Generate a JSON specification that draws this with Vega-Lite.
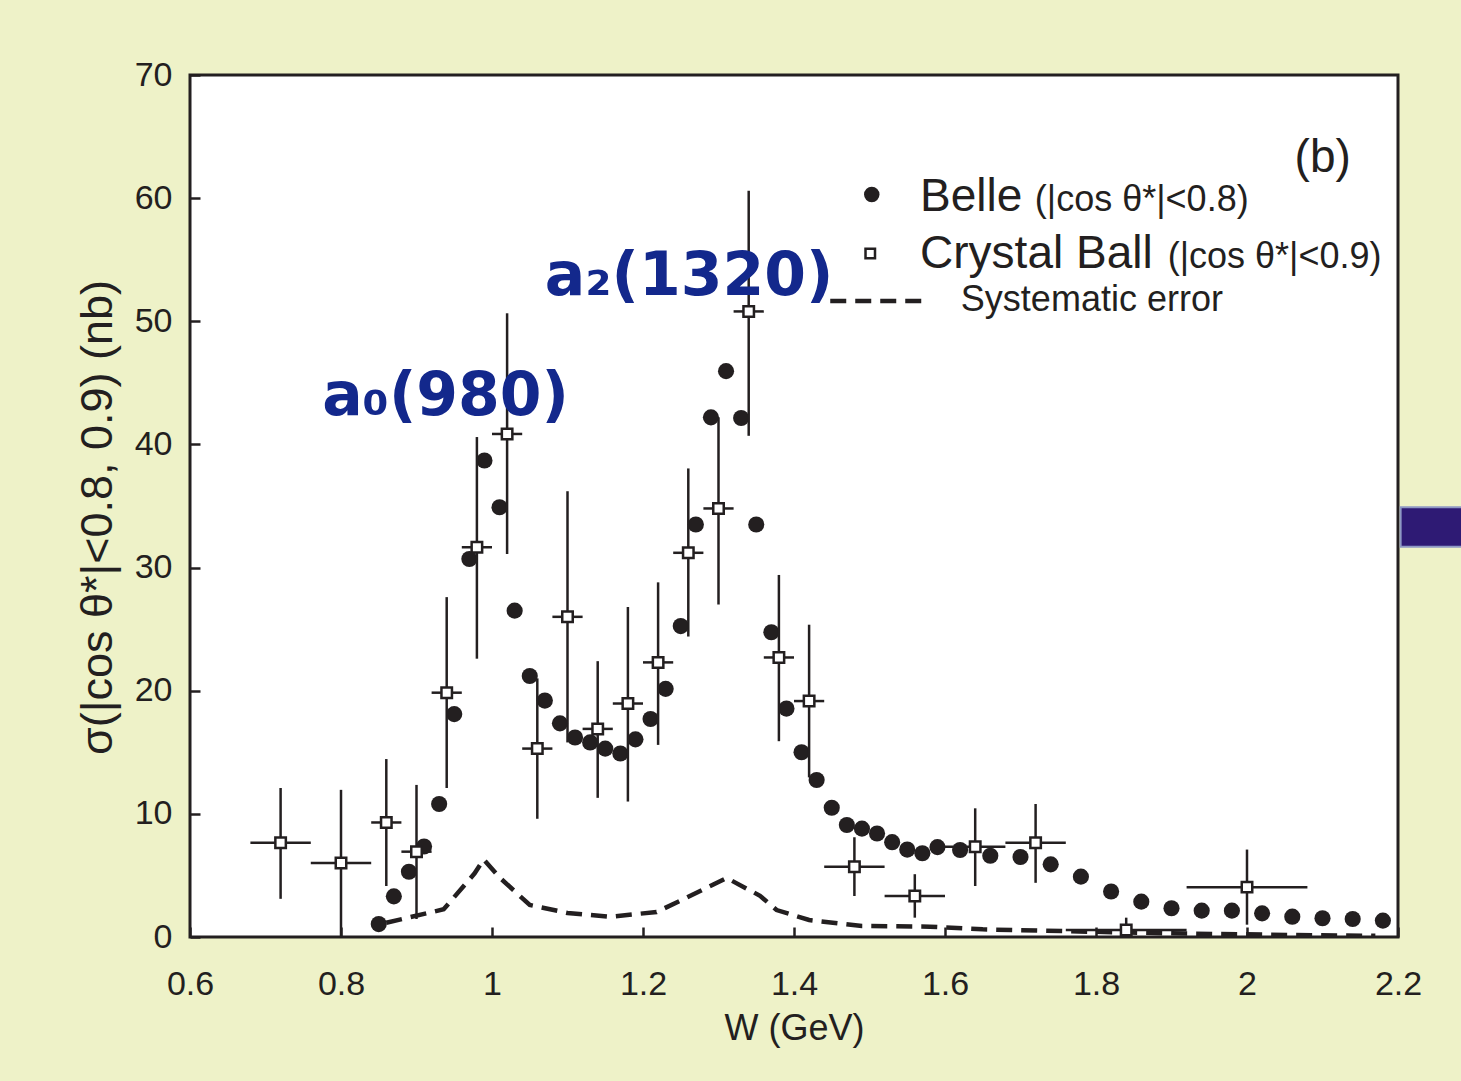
{
  "$schema": "https://vega.github.io/schema/vega-lite/v6.json",
  "width": 1208,
  "height": 862,
  "autosize": {"type": "none"},
  "padding": {"left": 190, "top": 75, "right": 63, "bottom": 144},
  "background": "#eef2c8",
  "config": {
    "view": {"fill": "white", "stroke": "#231f20", "strokeWidth": 3},
    "font": "Liberation Sans",
    "axis": {
      "domain": false, "grid": false,
      "tickColor": "#231f20", "tickWidth": 2.5, "tickSize": -10,
      "labelFont": "Liberation Sans", "labelFontSize": 34, "labelColor": "#231f20", "labelFlush": false,
      "titleFont": "Liberation Sans", "titleFontSize": 36, "titleFontWeight": "normal", "titleColor": "#231f20"
    }
  },
  "datasets": {
    "belle": [
      {"W": 0.85, "sigma": 1.05}, {"W": 0.87, "sigma": 3.3}, {"W": 0.89, "sigma": 5.3}, {"W": 0.91, "sigma": 7.35},
      {"W": 0.93, "sigma": 10.8}, {"W": 0.95, "sigma": 18.1}, {"W": 0.97, "sigma": 30.7}, {"W": 0.99, "sigma": 38.7},
      {"W": 1.01, "sigma": 34.9}, {"W": 1.03, "sigma": 26.5}, {"W": 1.05, "sigma": 21.2}, {"W": 1.07, "sigma": 19.2},
      {"W": 1.09, "sigma": 17.35}, {"W": 1.11, "sigma": 16.2}, {"W": 1.13, "sigma": 15.8}, {"W": 1.15, "sigma": 15.3},
      {"W": 1.17, "sigma": 14.9}, {"W": 1.19, "sigma": 16.05}, {"W": 1.21, "sigma": 17.7}, {"W": 1.23, "sigma": 20.15},
      {"W": 1.25, "sigma": 25.25}, {"W": 1.27, "sigma": 33.5}, {"W": 1.29, "sigma": 42.2}, {"W": 1.31, "sigma": 45.95},
      {"W": 1.33, "sigma": 42.15}, {"W": 1.35, "sigma": 33.5}, {"W": 1.37, "sigma": 24.75}, {"W": 1.39, "sigma": 18.55},
      {"W": 1.41, "sigma": 15.0}, {"W": 1.43, "sigma": 12.75}, {"W": 1.45, "sigma": 10.5}, {"W": 1.47, "sigma": 9.1},
      {"W": 1.49, "sigma": 8.8}, {"W": 1.51, "sigma": 8.4}, {"W": 1.53, "sigma": 7.7}, {"W": 1.55, "sigma": 7.1},
      {"W": 1.57, "sigma": 6.8}, {"W": 1.59, "sigma": 7.3}, {"W": 1.62, "sigma": 7.07}, {"W": 1.66, "sigma": 6.6},
      {"W": 1.70, "sigma": 6.5}, {"W": 1.74, "sigma": 5.9}, {"W": 1.78, "sigma": 4.9}, {"W": 1.82, "sigma": 3.7},
      {"W": 1.86, "sigma": 2.87}, {"W": 1.90, "sigma": 2.33}, {"W": 1.94, "sigma": 2.14}, {"W": 1.98, "sigma": 2.14},
      {"W": 2.02, "sigma": 1.92}, {"W": 2.06, "sigma": 1.65}, {"W": 2.10, "sigma": 1.52}, {"W": 2.14, "sigma": 1.46},
      {"W": 2.18, "sigma": 1.33}
    ],
    "cb": [
      {"W": 0.72, "sigma": 7.66, "lo": 3.1, "hi": 12.1, "wlo": 0.68, "whi": 0.76},
      {"W": 0.80, "sigma": 6.0, "lo": 0.0, "hi": 11.95, "wlo": 0.76, "whi": 0.84},
      {"W": 0.86, "sigma": 9.3, "lo": 4.14, "hi": 14.45, "wlo": 0.84, "whi": 0.88},
      {"W": 0.90, "sigma": 6.93, "lo": 1.46, "hi": 12.35, "wlo": 0.88, "whi": 0.92},
      {"W": 0.94, "sigma": 19.84, "lo": 12.1, "hi": 27.6, "wlo": 0.92, "whi": 0.96},
      {"W": 0.98, "sigma": 31.65, "lo": 22.6, "hi": 40.6, "wlo": 0.96, "whi": 1.00},
      {"W": 1.02, "sigma": 40.85, "lo": 31.1, "hi": 50.65, "wlo": 1.00, "whi": 1.04},
      {"W": 1.06, "sigma": 15.3, "lo": 9.6, "hi": 21.0, "wlo": 1.04, "whi": 1.08},
      {"W": 1.10, "sigma": 26.0, "lo": 15.8, "hi": 36.2, "wlo": 1.08, "whi": 1.12},
      {"W": 1.14, "sigma": 16.9, "lo": 11.3, "hi": 22.4, "wlo": 1.12, "whi": 1.16},
      {"W": 1.18, "sigma": 18.96, "lo": 11.0, "hi": 26.8, "wlo": 1.16, "whi": 1.20},
      {"W": 1.22, "sigma": 22.3, "lo": 15.6, "hi": 28.8, "wlo": 1.20, "whi": 1.24},
      {"W": 1.26, "sigma": 31.2, "lo": 24.4, "hi": 38.05, "wlo": 1.24, "whi": 1.28},
      {"W": 1.30, "sigma": 34.8, "lo": 27.0, "hi": 42.2, "wlo": 1.28, "whi": 1.32},
      {"W": 1.34, "sigma": 50.8, "lo": 40.7, "hi": 60.6, "wlo": 1.32, "whi": 1.36},
      {"W": 1.38, "sigma": 22.7, "lo": 15.9, "hi": 29.4, "wlo": 1.36, "whi": 1.40},
      {"W": 1.42, "sigma": 19.16, "lo": 12.96, "hi": 25.36, "wlo": 1.40, "whi": 1.44},
      {"W": 1.48, "sigma": 5.71, "lo": 3.33, "hi": 8.1, "wlo": 1.44, "whi": 1.52},
      {"W": 1.56, "sigma": 3.33, "lo": 1.57, "hi": 5.1, "wlo": 1.52, "whi": 1.60},
      {"W": 1.64, "sigma": 7.33, "lo": 4.14, "hi": 10.45, "wlo": 1.60, "whi": 1.68},
      {"W": 1.72, "sigma": 7.66, "lo": 4.4, "hi": 10.8, "wlo": 1.68, "whi": 1.76},
      {"W": 1.84, "sigma": 0.57, "lo": 0.0, "hi": 1.57, "wlo": 1.76, "whi": 1.92},
      {"W": 2.00, "sigma": 4.05, "lo": 1.0, "hi": 7.1, "wlo": 1.92, "whi": 2.08}
    ],
    "sys": [
      {"W": 0.86, "sigma": 1.16}, {"W": 0.936, "sigma": 2.25}, {"W": 0.977, "sigma": 5.17}, {"W": 0.989, "sigma": 6.3},
      {"W": 1.011, "sigma": 4.78}, {"W": 1.05, "sigma": 2.6}, {"W": 1.10, "sigma": 1.95}, {"W": 1.156, "sigma": 1.64},
      {"W": 1.218, "sigma": 2.03}, {"W": 1.258, "sigma": 3.2}, {"W": 1.311, "sigma": 4.79}, {"W": 1.355, "sigma": 3.35},
      {"W": 1.377, "sigma": 2.19}, {"W": 1.42, "sigma": 1.38}, {"W": 1.49, "sigma": 0.89}, {"W": 1.58, "sigma": 0.84},
      {"W": 1.65, "sigma": 0.62}, {"W": 1.79, "sigma": 0.43}, {"W": 1.90, "sigma": 0.30}, {"W": 2.06, "sigma": 0.16},
      {"W": 2.17, "sigma": 0.10}
    ],
    "legendText": [
      {"W": 1.567, "sigma": 58.96, "label": "Belle", "size": 46},
      {"W": 1.719, "sigma": 58.96, "label": "(|cos θ*|<0.8)", "size": 36},
      {"W": 1.567, "sigma": 54.33, "label": "Crystal Ball", "size": 46},
      {"W": 1.895, "sigma": 54.33, "label": "(|cos θ*|<0.9)", "size": 36},
      {"W": 1.621, "sigma": 50.84, "label": "Systematic error", "size": 36},
      {"W": 2.063, "sigma": 62.1, "label": "(b)", "size": 46}
    ],
    "annot": [
      {"W": 0.775, "sigma": 42.4, "label": "a₀(980)"},
      {"W": 1.070, "sigma": 52.1, "label": "a₂(1320)"}
    ]
  },
  "layer": [
    {
      "data": {"name": "sys"},
      "mark": {"type": "line", "color": "#231f20", "strokeWidth": 4.5, "strokeDash": [16, 9]},
      "encoding": {
        "x": {"field": "W", "type": "quantitative",
          "scale": {"domain": [0.6, 2.2], "nice": false, "zero": false},
          "axis": {"values": [0.6, 0.8, 1.0, 1.2, 1.4, 1.6, 1.8, 2.0, 2.2], "format": "~g", "labelPadding": 40, "title": "W (GeV)", "titleY": 91, "titleBaseline": "middle"}},
        "y": {"field": "sigma", "type": "quantitative",
          "scale": {"domain": [0, 70], "nice": false},
          "axis": {"values": [0, 10, 20, 30, 40, 50, 60, 70], "labelPadding": 28, "title": "σ(|cos θ*|<0.8, 0.9) (nb)", "titleFontSize": 45, "titleX": -93, "titleY": 442, "titleBaseline": "middle"}}
      }
    },
    {
      "data": {"name": "belle"},
      "mark": {"type": "point", "shape": "circle", "filled": true, "color": "#231f20", "opacity": 1, "size": 260},
      "encoding": {"x": {"field": "W", "type": "quantitative"}, "y": {"field": "sigma", "type": "quantitative"}}
    },
    {
      "data": {"name": "cb"},
      "mark": {"type": "rule", "color": "#231f20", "strokeWidth": 2.5},
      "encoding": {"x": {"field": "W", "type": "quantitative"}, "y": {"field": "lo", "type": "quantitative"}, "y2": {"field": "hi"}}
    },
    {
      "data": {"name": "cb"},
      "mark": {"type": "rule", "color": "#231f20", "strokeWidth": 2.5},
      "encoding": {"x": {"field": "wlo", "type": "quantitative"}, "x2": {"field": "whi"}, "y": {"field": "sigma", "type": "quantitative"}}
    },
    {
      "data": {"name": "cb"},
      "mark": {"type": "point", "shape": "square", "filled": true, "fill": "white", "stroke": "#231f20", "strokeWidth": 2.5, "opacity": 1, "size": 110},
      "encoding": {"x": {"field": "W", "type": "quantitative"}, "y": {"field": "sigma", "type": "quantitative"}}
    },
    {
      "data": {"values": [{"W": 1.503, "sigma": 60.3}]},
      "mark": {"type": "point", "shape": "circle", "filled": true, "color": "#231f20", "opacity": 1, "size": 240},
      "encoding": {"x": {"field": "W", "type": "quantitative"}, "y": {"field": "sigma", "type": "quantitative"}}
    },
    {
      "data": {"values": [{"W": 1.501, "sigma": 55.5}]},
      "mark": {"type": "point", "shape": "square", "filled": true, "fill": "white", "stroke": "#231f20", "strokeWidth": 2.5, "opacity": 1, "size": 90},
      "encoding": {"x": {"field": "W", "type": "quantitative"}, "y": {"field": "sigma", "type": "quantitative"}}
    },
    {
      "data": {"values": [{"W": 1.448, "W2": 1.573, "sigma": 51.65}]},
      "mark": {"type": "rule", "color": "#231f20", "strokeWidth": 4.5, "strokeDash": [16, 9]},
      "encoding": {"x": {"field": "W", "type": "quantitative"}, "x2": {"field": "W2"}, "y": {"field": "sigma", "type": "quantitative"}}
    },
    {
      "data": {"name": "legendText"},
      "mark": {"type": "text", "align": "left", "baseline": "alphabetic", "font": "Liberation Sans", "color": "#231f20"},
      "encoding": {"x": {"field": "W", "type": "quantitative"}, "y": {"field": "sigma", "type": "quantitative"},
        "text": {"field": "label"}, "size": {"field": "size", "type": "quantitative", "scale": null}}
    },
    {
      "data": {"name": "annot"},
      "mark": {"type": "text", "align": "left", "baseline": "alphabetic", "font": "DejaVu Sans", "fontWeight": "bold", "fontSize": 60, "color": "#13288c"},
      "encoding": {"x": {"field": "W", "type": "quantitative"}, "y": {"field": "sigma", "type": "quantitative"}, "text": {"field": "label"}}
    },
    {
      "data": {"values": [{"W": 2.2035, "W2": 2.29, "sigma": 31.7, "sigma2": 34.9}]},
      "mark": {"type": "rect", "color": "#2e1a74", "stroke": "#8e98c4", "strokeWidth": 2, "clip": false},
      "encoding": {"x": {"field": "W", "type": "quantitative"}, "x2": {"field": "W2"}, "y": {"field": "sigma", "type": "quantitative"}, "y2": {"field": "sigma2"}}
    }
  ]
}
